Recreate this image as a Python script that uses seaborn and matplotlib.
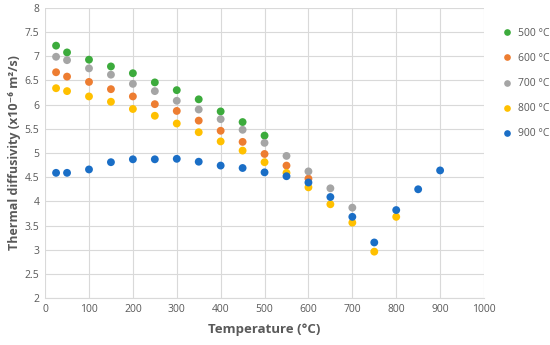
import pandas as pd
import matplotlib.pyplot as plt
import seaborn as sns

# temperatures of the measurements (x)
temp_500 = [25, 50, 100, 150, 200, 250, 300, 350, 400, 450, 500]
temp_600 = [25, 50, 100, 150, 200, 250, 300, 350, 400, 450, 500, 550, 600]
temp_700 = [25, 50, 100, 150, 200, 250, 300, 350, 400, 450, 500, 550, 600, 650, 700]
temp_800 = [25, 50, 100, 150, 200, 250, 300, 350, 400, 450, 500, 550, 600, 650, 700, 750, 800]
temp_900 = [25, 50, 100, 150, 200, 250, 300, 350, 400, 450, 500, 550, 600, 650, 700, 750, 800, 850, 900]

# thermal diffusivity (x10^-6 m2/s)
diff_500 = [7.22, 7.08, 6.93, 6.79, 6.65, 6.46, 6.30, 6.11, 5.86, 5.64, 5.36]
diff_600 = [6.67, 6.58, 6.47, 6.32, 6.17, 6.01, 5.87, 5.67, 5.46, 5.23, 4.98, 4.74, 4.47]
diff_700 = [6.99, 6.92, 6.75, 6.62, 6.43, 6.28, 6.08, 5.90, 5.70, 5.48, 5.21, 4.94, 4.62, 4.27, 3.87]
diff_800 = [6.34, 6.28, 6.17, 6.06, 5.91, 5.77, 5.61, 5.43, 5.24, 5.05, 4.81, 4.59, 4.29, 3.94, 3.56, 2.96, 3.68]
diff_900 = [4.59, 4.59, 4.66, 4.81, 4.87, 4.87, 4.88, 4.82, 4.74, 4.69, 4.60, 4.52, 4.39, 4.09, 3.68, 3.15, 3.82, 4.25, 4.64]

labels = ['500 °C', '600 °C', '700 °C', '800 °C', '900 °C']
colors = ['#3cab3c', '#ed7d31', '#a5a5a5', '#ffc000', '#1a6ec6']

temps = [temp_500, temp_600, temp_700, temp_800, temp_900]
diffs = [diff_500, diff_600, diff_700, diff_800, diff_900]
frames = []
for lab, t, d in zip(labels, temps, diffs):
    frames.append(pd.DataFrame({'temp': t, 'diff': d, 'series': lab}))
df = pd.concat(frames, ignore_index=True)

sns.set_style('white')
plt.rcParams['font.family'] = ['Open Sans', 'DejaVu Sans']

fig, ax = plt.subplots(figsize=(5.5, 3.45), dpi=100)
fig.subplots_adjust(left=0.082, right=0.88, top=0.977, bottom=0.136)

sns.scatterplot(data=df, x='temp', y='diff', hue='series', palette=colors,
                s=32, edgecolor='none', ax=ax, zorder=3)

ax.set_xlim(0, 1000)
ax.set_ylim(2, 8)
ax.set_xticks(range(0, 1001, 100))
ax.set_yticks([2, 2.5, 3, 3.5, 4, 4.5, 5, 5.5, 6, 6.5, 7, 7.5, 8])
ax.set_yticklabels(['2', '2.5', '3', '3.5', '4', '4.5', '5', '5.5', '6', '6.5', '7', '7.5', '8'])
ax.grid(True, color='#d9d9d9', linewidth=0.8)
ax.set_axisbelow(True)
for side in ['top', 'right', 'left']:
    ax.spines[side].set_visible(False)
ax.spines['bottom'].set_color('#d9d9d9')
ax.tick_params(axis='both', length=0, labelsize=7.5, colors='#595959', pad=4)

ax.set_xlabel('Temperature (°C)', fontsize=9.5, fontweight='bold', color='#595959', labelpad=6)
ax.set_ylabel('Thermal diffusivity (x10⁻⁶ m²/s)', fontsize=9, fontweight='bold',
              color='#595959', labelpad=3)

leg = ax.legend(loc='upper left', bbox_to_anchor=(1.02, 0.945), frameon=False,
                fontsize=7.5, labelspacing=1.35, handletextpad=0.0, markerscale=0.85,
                borderaxespad=0)
for txt in leg.get_texts():
    txt.set_color('#595959')

plt.savefig('out.png', dpi=100)
plt.close()
